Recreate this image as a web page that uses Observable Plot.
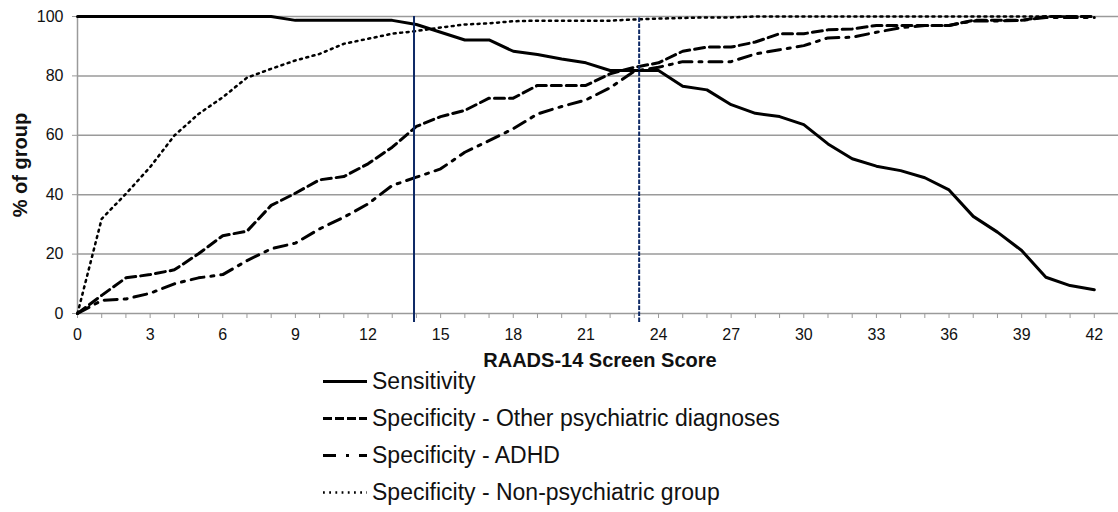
<!DOCTYPE html>
<html>
<head>
<meta charset="utf-8">
<script src="https://cdn.jsdelivr.net/npm/d3@7"></script>
<script src="https://cdn.jsdelivr.net/npm/@observablehq/plot@0.6"></script>
<style>
  html, body { margin: 0; padding: 0; background: #fff; }
  body { width: 1118px; height: 512px; overflow: hidden; font-family: "Liberation Sans", Arial, sans-serif; }
  #chart svg, #legend svg { display: block; }
</style>
</head>
<body>
<div id="chart"></div>
<div id="legend"></div>
<script>
// ---- Data ----
const scores = [0,1,2,3,4,5,6,7,8,9,10,11,12,13,14,15,16,17,18,19,20,21,22,23,24,25,26,27,28,29,30,31,32,33,34,35,36,37,38,39,40,41,42];

const sensitivity = [100,100,100,100,100,100,100,100,100,98.7,98.7,98.7,98.7,98.7,97.3,94.7,92.1,92.1,88.3,87.2,85.7,84.4,81.8,81.8,81.8,76.5,75.3,70.3,67.4,66.3,63.6,57.1,52.1,49.6,48.1,45.7,41.6,32.7,27.4,21.2,12.2,9.4,8.0];

const specOtherPsych = [0,6.1,12.0,13.1,14.7,20.1,26.2,27.7,36.4,40.5,45.0,46.1,50.4,56.0,63.0,66.3,68.4,72.5,72.5,76.8,76.8,76.8,80.7,82.9,84.4,88.3,89.7,89.7,91.4,94.2,94.2,95.5,95.8,97.0,97.0,97.0,97.0,98.7,98.7,98.7,100,100,100];

const specADHD = [0,4.4,4.9,6.8,10.0,12.0,13.1,17.8,21.8,23.7,28.5,32.4,36.9,43.1,45.9,48.7,54.3,58.2,62.2,67.2,69.7,71.9,76.0,81.6,82.9,84.8,84.8,84.8,87.4,88.8,90.2,92.8,93.0,94.7,96.2,97.0,97.0,98.5,98.5,98.7,99.7,99.7,99.7];

const specNonPsych = [0,31.9,40.3,49.3,59.9,67.2,72.8,79.4,82.4,85.2,87.4,90.8,92.5,94.2,95.1,96.3,97.3,97.7,98.4,98.6,98.6,98.6,98.6,99.0,99.3,99.5,99.7,99.7,100,100,100,100,100,100,100,100,100,100,100,100,100,100,100];

const seriesNames = [
  "Sensitivity",
  "Specificity - Other psychiatric diagnoses",
  "Specificity - ADHD",
  "Specificity - Non-psychiatric group"
];
const seriesValues = [sensitivity, specOtherPsych, specADHD, specNonPsych];

const cutoffSolid = [13.9];
const cutoffDashed = [23.2];

const yTicks = [0, 20, 40, 60, 80, 100];
const yGrid = [20, 40, 60, 80, 100];

const xLabel = "RAADS-14 Screen Score";
const yLabel = "% of group";

// ---- Styles ----
const seriesStyles = [
  {strokeWidth: 3, dash: null, legendDash: null},
  {strokeWidth: 3, dash: "10,5", legendDash: "9,3"},
  {strokeWidth: 3, dash: "13,7,3,7", legendDash: "13,10,3,10"},
  {strokeWidth: 2.5, dash: "2,4.5", legendDash: "1.8,4.4"}
];

const rows = seriesNames.flatMap((name, i) =>
  scores.map((s, j) => ({series: name, score: s, value: seriesValues[i][j]}))
);

const lineMarks = seriesNames.map((name, i) =>
  Plot.line(rows.filter(d => d.series === name), {
    x: "score", y: "value",
    stroke: "#000",
    strokeWidth: seriesStyles[i].strokeWidth,
    strokeDasharray: seriesStyles[i].dash,
    strokeLinejoin: "round"
  })
);

const navy = "#0f2a66";
const gray = "#9a9a9a";

const chart = Plot.plot({
  width: 1118,
  height: 345,
  marginLeft: 77,
  marginRight: 0,
  marginTop: 16,
  marginBottom: 32,
  style: {fontFamily: "'Liberation Sans', Arial, sans-serif", background: "#fff"},
  x: {domain: [0, 43], label: null},
  y: {domain: [0, 100], label: null},
  marks: [
    Plot.gridY(yGrid, {stroke: gray, strokeOpacity: 1, strokeWidth: 1.5}),
    Plot.ruleY([0], {stroke: gray, strokeWidth: 1.5}),
    Plot.ruleX([0], {y1: 0, y2: 100, stroke: gray, strokeWidth: 1.5}),
    Plot.axisY({ticks: yTicks, tickSize: 5, tickPadding: 9, fontSize: 16, stroke: gray, fill: "#111", label: null}),
    Plot.axisX({ticks: scores, tickSize: 5, tickPadding: 10, fontSize: 16, stroke: gray, fill: "#111",
      tickFormat: d => d % 3 === 0 ? String(d) : "", label: null}),
    Plot.text([yLabel], {frameAnchor: "left", textAnchor: "middle", dx: -57, rotate: -90, fontSize: 20, fontWeight: "bold", fill: "#111", text: d => d}),
    ...lineMarks,
    Plot.ruleX(cutoffSolid, {y1: -3, y2: 100, stroke: navy, strokeWidth: 2}),
    Plot.ruleX(cutoffDashed, {y1: -3, y2: 100, stroke: navy, strokeWidth: 2, strokeDasharray: "4.5,1.5"})
  ]
});
document.getElementById("chart").appendChild(chart);

// ---- Axis title + legend below the plot ----
const lg = d3.select("#legend").append("svg")
  .attr("width", 1118).attr("height", 167)
  .style("font-family", "'Liberation Sans', Arial, sans-serif");

lg.append("text")
  .attr("x", 600).attr("y", 21.7)
  .attr("text-anchor", "middle")
  .attr("font-size", 20).attr("font-weight", "bold").attr("fill", "#111")
  .text(xLabel);

const legendBase = [44, 81, 118, 155];
seriesNames.forEach((name, i) => {
  const by = legendBase[i];
  lg.append("line")
    .attr("x1", 323).attr("x2", 367)
    .attr("y1", by - 7.5).attr("y2", by - 7.5)
    .attr("stroke", "#000")
    .attr("stroke-width", seriesStyles[i].strokeWidth)
    .attr("stroke-dasharray", seriesStyles[i].legendDash);
  lg.append("text")
    .attr("x", 372).attr("y", by)
    .attr("font-size", 23).attr("fill", "#111")
    .text(name);
});
</script>
</body>
</html>
